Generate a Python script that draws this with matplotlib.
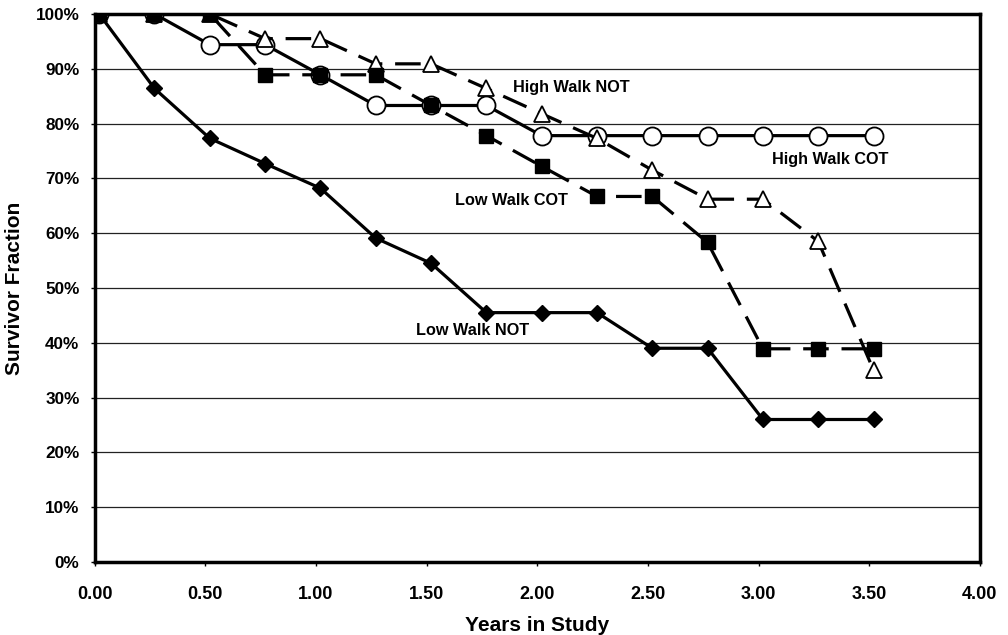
import matplotlib.pyplot as plt
from matplotlib.ticker import FuncFormatter

plt.rcParams['font.family'] = ['Liberation Sans', 'DejaVu Sans']

years = [0.02, 0.27, 0.52, 0.77, 1.02, 1.27, 1.52, 1.77, 2.02, 2.27, 2.52, 2.77, 3.02, 3.27, 3.52]

high_walk_cot = [100, 100, 94.4, 94.4, 88.9, 83.3, 83.3, 83.3, 77.8, 77.8, 77.8, 77.8, 77.8, 77.8, 77.8]
high_walk_not = [100, 100, 100, 95.5, 95.5, 90.9, 90.9, 86.4, 81.8, 77.3, 71.5, 66.2, 66.2, 58.5, 35.0]
low_walk_cot = [100, 100, 100, 88.9, 88.9, 88.9, 83.3, 77.8, 72.2, 66.7, 66.7, 58.3, 38.9, 38.9, 38.9]
low_walk_not = [100, 86.4, 77.3, 72.7, 68.2, 59.1, 54.5, 45.5, 45.5, 45.5, 39.0, 39.0, 26.0, 26.0, 26.0]

fig = plt.figure(figsize=(10.08, 6.35), dpi=100)
ax = fig.add_axes([0.094, 0.115, 0.878, 0.863])

dash = (0, (8, 4))
ax.plot(years, high_walk_cot, color='black', lw=2.3, marker='o', ms=13,
        mfc='white', mec='black', mew=1.3, zorder=3)
ax.plot(years, high_walk_not, color='black', lw=2.3, ls=dash, marker='^', ms=12,
        mfc='white', mec='black', mew=1.3, zorder=4)
ax.plot(years, low_walk_cot, color='black', lw=2.3, ls=dash, marker='s', ms=10,
        mfc='black', mec='black', zorder=5)
ax.plot(years, low_walk_not, color='black', lw=2.3, marker='D', ms=8,
        mfc='black', mec='black', zorder=6)

lab = dict(fontsize=11.7, fontweight='bold', ha='left', va='center')
ax.text(1.89, 86.6, 'High Walk NOT', **lab)
ax.text(3.06, 73.4, 'High Walk COT', **lab)
ax.text(1.63, 66.0, 'Low Walk COT', **lab)
ax.text(1.45, 42.3, 'Low Walk NOT', **lab)

ax.set_xlim(0, 4)
ax.set_ylim(0, 100)
ax.set_xticks([0, 0.5, 1.0, 1.5, 2.0, 2.5, 3.0, 3.5, 4.0])
ax.set_yticks(range(0, 101, 10))
ax.xaxis.set_major_formatter(FuncFormatter(lambda v, p: '%.2f' % v))
ax.yaxis.set_major_formatter(FuncFormatter(lambda v, p: '%d%%' % v))
for t in ax.get_xticklabels() + ax.get_yticklabels():
    t.set_fontweight('bold')
ax.tick_params(axis='x', labelsize=13, length=3, width=1, direction='out', pad=14)
ax.tick_params(axis='y', labelsize=12.3, length=3, width=1, direction='out', pad=8)
ax.yaxis.grid(True, color='#222222', lw=0.9)
ax.set_axisbelow(True)
for s in ax.spines.values():
    s.set_linewidth(2.5)

ax.set_xlabel('Years in Study', fontsize=15, fontweight='bold', labelpad=10)
ax.set_ylabel('Survivor Fraction', fontsize=15, fontweight='bold', labelpad=8)

fig.savefig('out.png', dpi=100)
